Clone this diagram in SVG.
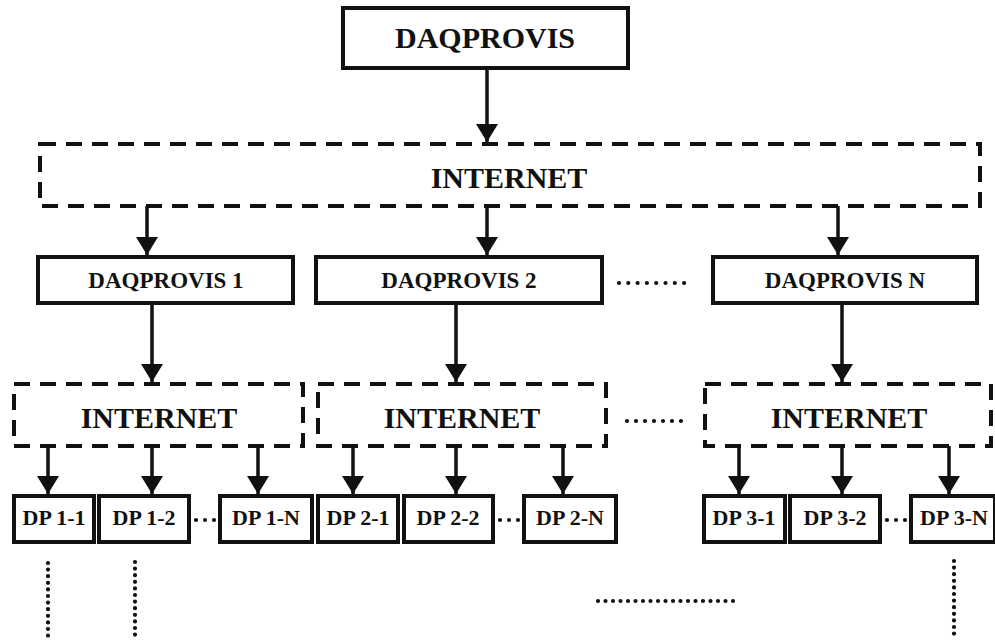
<svg xmlns="http://www.w3.org/2000/svg" width="995" height="641" viewBox="0 0 995 641">
<defs>
<style>
.box{fill:#fff;stroke:#111;stroke-width:4}
.net{fill:none;stroke:#111;stroke-width:4;stroke-dasharray:16 10}
.t{font-family:"Liberation Serif","Times New Roman",serif;font-weight:bold;fill:#111;text-anchor:middle}
.big{font-size:30px}
.mid{font-size:23px}
.dp{font-size:22px}
.arr{stroke:#111;stroke-width:3.5;fill:none;marker-end:url(#ah)}
.dots{stroke:#111;stroke-width:4.2;stroke-linecap:round;fill:none}
</style>
<marker id="ah" markerUnits="userSpaceOnUse" markerWidth="18" markerHeight="22" viewBox="0 0 18 22" refX="18" refY="11" orient="auto">
<path d="M0,0 L18,11 L0,22 z" fill="#111"/>
</marker>
</defs>
<rect width="995" height="641" fill="#fff"/>

<g id="connectors">
<line class="arr" x1="487" y1="68" x2="487" y2="142"/>
<line class="arr" x1="147" y1="206" x2="147" y2="255"/>
<line class="arr" x1="487" y1="206" x2="487" y2="255"/>
<line class="arr" x1="838" y1="206" x2="838" y2="255"/>
<line class="arr" x1="152" y1="303" x2="152" y2="382"/>
<line class="arr" x1="456" y1="303" x2="456" y2="382"/>
<line class="arr" x1="842" y1="303" x2="842" y2="382"/>
<line class="arr" x1="48" y1="446" x2="48" y2="494"/>
<line class="arr" x1="152" y1="446" x2="152" y2="494"/>
<line class="arr" x1="258" y1="446" x2="258" y2="494"/>
<line class="arr" x1="353" y1="446" x2="353" y2="494"/>
<line class="arr" x1="456" y1="446" x2="456" y2="494"/>
<line class="arr" x1="563" y1="446" x2="563" y2="494"/>
<line class="arr" x1="739" y1="446" x2="739" y2="494"/>
<line class="arr" x1="842" y1="446" x2="842" y2="494"/>
<line class="arr" x1="949" y1="446" x2="949" y2="494"/>
</g>

<g id="daqprovis">
<rect class="box" x="343" y="8" width="285" height="60"/>
<text class="t big" x="485" y="48">DAQPROVIS</text>
</g>

<g id="internet-main">
<rect class="net" x="40" y="144" width="940" height="62"/>
<text class="t big" x="509" y="188">INTERNET</text>
</g>

<g id="daqprovis-1">
<rect class="box" x="38" y="257" width="255" height="46"/>
<text class="t mid" x="166" y="288">DAQPROVIS 1</text>
</g>
<g id="daqprovis-2">
<rect class="box" x="316" y="257" width="286" height="46"/>
<text class="t mid" x="459" y="288">DAQPROVIS 2</text>
</g>
<g id="daqprovis-n">
<rect class="box" x="713" y="257" width="264" height="46"/>
<text class="t mid" x="845" y="288">DAQPROVIS N</text>
</g>

<g id="internet-1">
<rect class="net" x="14" y="384" width="289" height="62"/>
<text class="t big" x="159" y="428">INTERNET</text>
</g>
<g id="internet-2">
<rect class="net" x="318" y="384" width="288" height="62"/>
<text class="t big" x="462" y="428">INTERNET</text>
</g>
<g id="internet-3">
<rect class="net" x="705" y="384" width="286" height="62"/>
<text class="t big" x="849" y="428">INTERNET</text>
</g>

<g id="dp-1-1"><rect class="box" x="14" y="496" width="80" height="46"/><text class="t dp" x="54" y="525">DP 1-1</text></g>
<g id="dp-1-2"><rect class="box" x="99" y="496" width="90" height="46"/><text class="t dp" x="144" y="525">DP 1-2</text></g>
<g id="dp-1-n"><rect class="box" x="220" y="496" width="92" height="46"/><text class="t dp" x="266" y="525">DP 1-N</text></g>
<g id="dp-2-1"><rect class="box" x="318" y="496" width="80" height="46"/><text class="t dp" x="358" y="525">DP 2-1</text></g>
<g id="dp-2-2"><rect class="box" x="404" y="496" width="89" height="46"/><text class="t dp" x="448" y="525">DP 2-2</text></g>
<g id="dp-2-n"><rect class="box" x="524" y="496" width="92" height="46"/><text class="t dp" x="570" y="525">DP 2-N</text></g>
<g id="dp-3-1"><rect class="box" x="704" y="496" width="81" height="46"/><text class="t dp" x="744" y="525">DP 3-1</text></g>
<g id="dp-3-2"><rect class="box" x="790" y="496" width="90" height="46"/><text class="t dp" x="835" y="525">DP 3-2</text></g>
<g id="dp-3-n"><rect class="box" x="911" y="496" width="84" height="46"/><text class="t dp" x="954" y="525">DP 3-N</text></g>

<g id="ellipses">
<path class="dots" stroke-dasharray="0 9.3" d="M619,283 H685"/>
<path class="dots" stroke-dasharray="0 9" d="M627,421 H683"/>
<path class="dots" stroke-dasharray="0 9" d="M196,520 H215"/>
<path class="dots" stroke-dasharray="0 9" d="M500,520 H519"/>
<path class="dots" stroke-dasharray="0 9" d="M887,520 H906"/>
<path class="dots" stroke-dasharray="0 6.6" d="M48,563 V637"/>
<path class="dots" stroke-dasharray="0 6.6" d="M135,562 V637"/>
<path class="dots" stroke-dasharray="0 6.6" d="M954,561 V636"/>
<path class="dots" stroke-dasharray="0 7.5" d="M598,601 H734"/>
</g>
</svg>
